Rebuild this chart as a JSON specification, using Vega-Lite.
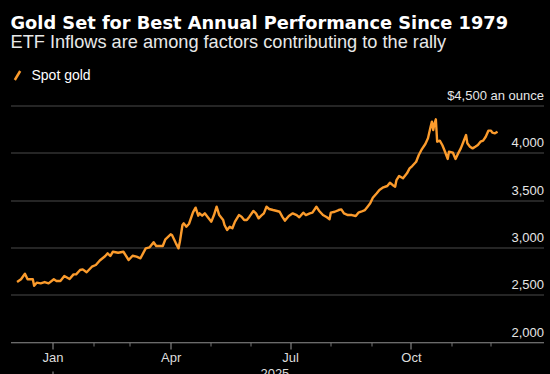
{
  "$schema": "https://vega.github.io/schema/vega-lite/v6.json",
  "autosize": {"type": "none"},
  "width": 533,
  "height": 236.5,
  "padding": {"left": 10.5, "top": 105.5, "right": 6.5, "bottom": 32},
  "background": "#000000",
  "title": {
    "text": "Gold Set for Best Annual Performance Since 1979",
    "subtitle": "ETF Inflows are among factors contributing to the rally",
    "anchor": "start",
    "frame": "group",
    "offset": 17,
    "font": "DejaVu Sans",
    "fontSize": 17.8,
    "fontWeight": "bold",
    "color": "#ffffff",
    "subtitleFont": "Liberation Sans",
    "subtitleFontSize": 18.2,
    "subtitleColor": "#e8e8e8",
    "subtitlePadding": 2
  },
  "data": {"values": [
    {"date": "2024-12-05", "price": 2634}, {"date": "2024-12-08", "price": 2663}, {"date": "2024-12-11", "price": 2722},
    {"date": "2024-12-13", "price": 2663}, {"date": "2024-12-17", "price": 2663}, {"date": "2024-12-18", "price": 2595},
    {"date": "2024-12-20", "price": 2627}, {"date": "2024-12-23", "price": 2620}, {"date": "2024-12-26", "price": 2634},
    {"date": "2024-12-29", "price": 2620}, {"date": "2025-01-02", "price": 2663}, {"date": "2025-01-04", "price": 2645},
    {"date": "2025-01-07", "price": 2645}, {"date": "2025-01-10", "price": 2698}, {"date": "2025-01-14", "price": 2666},
    {"date": "2025-01-17", "price": 2715}, {"date": "2025-01-19", "price": 2715}, {"date": "2025-01-22", "price": 2761},
    {"date": "2025-01-24", "price": 2768}, {"date": "2025-01-27", "price": 2737}, {"date": "2025-01-31", "price": 2796},
    {"date": "2025-02-03", "price": 2814}, {"date": "2025-02-06", "price": 2862}, {"date": "2025-02-10", "price": 2907},
    {"date": "2025-02-12", "price": 2937}, {"date": "2025-02-14", "price": 2909}, {"date": "2025-02-16", "price": 2954},
    {"date": "2025-02-20", "price": 2944}, {"date": "2025-02-24", "price": 2954}, {"date": "2025-02-28", "price": 2867},
    {"date": "2025-03-03", "price": 2912}, {"date": "2025-03-06", "price": 2902}, {"date": "2025-03-09", "price": 2885},
    {"date": "2025-03-13", "price": 2990}, {"date": "2025-03-16", "price": 3001}, {"date": "2025-03-19", "price": 3054},
    {"date": "2025-03-21", "price": 3015}, {"date": "2025-03-26", "price": 3015}, {"date": "2025-03-28", "price": 3086},
    {"date": "2025-04-01", "price": 3138}, {"date": "2025-04-02", "price": 3131}, {"date": "2025-04-05", "price": 3043},
    {"date": "2025-04-07", "price": 2990}, {"date": "2025-04-08", "price": 3060}, {"date": "2025-04-10", "price": 3237},
    {"date": "2025-04-11", "price": 3254}, {"date": "2025-04-13", "price": 3219}, {"date": "2025-04-15", "price": 3250},
    {"date": "2025-04-18", "price": 3370}, {"date": "2025-04-20", "price": 3420}, {"date": "2025-04-22", "price": 3335},
    {"date": "2025-04-23", "price": 3360}, {"date": "2025-04-25", "price": 3335}, {"date": "2025-04-27", "price": 3360},
    {"date": "2025-04-29", "price": 3325}, {"date": "2025-05-02", "price": 3272}, {"date": "2025-05-04", "price": 3342},
    {"date": "2025-05-06", "price": 3430}, {"date": "2025-05-08", "price": 3342}, {"date": "2025-05-11", "price": 3290},
    {"date": "2025-05-12", "price": 3237}, {"date": "2025-05-14", "price": 3184}, {"date": "2025-05-16", "price": 3219},
    {"date": "2025-05-18", "price": 3202}, {"date": "2025-05-20", "price": 3272}, {"date": "2025-05-23", "price": 3342},
    {"date": "2025-05-25", "price": 3325}, {"date": "2025-05-27", "price": 3290}, {"date": "2025-05-29", "price": 3290},
    {"date": "2025-05-31", "price": 3325}, {"date": "2025-06-03", "price": 3385}, {"date": "2025-06-05", "price": 3360},
    {"date": "2025-06-07", "price": 3307}, {"date": "2025-06-09", "price": 3335}, {"date": "2025-06-11", "price": 3360},
    {"date": "2025-06-13", "price": 3430}, {"date": "2025-06-15", "price": 3406}, {"date": "2025-06-18", "price": 3395},
    {"date": "2025-06-21", "price": 3385}, {"date": "2025-06-23", "price": 3377}, {"date": "2025-06-25", "price": 3325},
    {"date": "2025-06-27", "price": 3283}, {"date": "2025-06-30", "price": 3332}, {"date": "2025-07-03", "price": 3360},
    {"date": "2025-07-06", "price": 3342}, {"date": "2025-07-08", "price": 3318}, {"date": "2025-07-11", "price": 3367},
    {"date": "2025-07-13", "price": 3342}, {"date": "2025-07-16", "price": 3360}, {"date": "2025-07-18", "price": 3367},
    {"date": "2025-07-21", "price": 3430}, {"date": "2025-07-23", "price": 3388}, {"date": "2025-07-26", "price": 3342},
    {"date": "2025-07-29", "price": 3318}, {"date": "2025-07-31", "price": 3297}, {"date": "2025-08-01", "price": 3367},
    {"date": "2025-08-04", "price": 3377}, {"date": "2025-08-07", "price": 3395}, {"date": "2025-08-09", "price": 3402},
    {"date": "2025-08-11", "price": 3360}, {"date": "2025-08-14", "price": 3342}, {"date": "2025-08-17", "price": 3342},
    {"date": "2025-08-20", "price": 3332}, {"date": "2025-08-22", "price": 3367}, {"date": "2025-08-24", "price": 3377},
    {"date": "2025-08-27", "price": 3395}, {"date": "2025-08-29", "price": 3430}, {"date": "2025-08-31", "price": 3466},
    {"date": "2025-09-02", "price": 3525}, {"date": "2025-09-05", "price": 3572}, {"date": "2025-09-07", "price": 3607},
    {"date": "2025-09-10", "price": 3635}, {"date": "2025-09-13", "price": 3649}, {"date": "2025-09-15", "price": 3684},
    {"date": "2025-09-17", "price": 3660}, {"date": "2025-09-19", "price": 3642}, {"date": "2025-09-20", "price": 3712},
    {"date": "2025-09-22", "price": 3755}, {"date": "2025-09-25", "price": 3730}, {"date": "2025-09-28", "price": 3783},
    {"date": "2025-09-30", "price": 3835}, {"date": "2025-10-02", "price": 3860}, {"date": "2025-10-05", "price": 3906},
    {"date": "2025-10-07", "price": 3977}, {"date": "2025-10-09", "price": 4030}, {"date": "2025-10-12", "price": 4093},
    {"date": "2025-10-14", "price": 4153}, {"date": "2025-10-16", "price": 4276}, {"date": "2025-10-17", "price": 4329},
    {"date": "2025-10-18", "price": 4241}, {"date": "2025-10-19", "price": 4311}, {"date": "2025-10-20", "price": 4354},
    {"date": "2025-10-21", "price": 4117}, {"date": "2025-10-23", "price": 4128}, {"date": "2025-10-25", "price": 4080},
    {"date": "2025-10-27", "price": 4011}, {"date": "2025-10-29", "price": 3935}, {"date": "2025-10-30", "price": 4011},
    {"date": "2025-11-02", "price": 4001}, {"date": "2025-11-04", "price": 3935}, {"date": "2025-11-06", "price": 3994},
    {"date": "2025-11-08", "price": 4047}, {"date": "2025-11-10", "price": 4117}, {"date": "2025-11-12", "price": 4188},
    {"date": "2025-11-13", "price": 4100}, {"date": "2025-11-15", "price": 4064}, {"date": "2025-11-17", "price": 4047},
    {"date": "2025-11-19", "price": 4064}, {"date": "2025-11-21", "price": 4082}, {"date": "2025-11-23", "price": 4117},
    {"date": "2025-11-25", "price": 4128}, {"date": "2025-11-27", "price": 4170}, {"date": "2025-11-29", "price": 4234},
    {"date": "2025-12-01", "price": 4234}, {"date": "2025-12-02", "price": 4213}, {"date": "2025-12-04", "price": 4206},
    {"date": "2025-12-06", "price": 4223}
  ]},
  "layer": [
    {
      "mark": {"type": "line", "strokeWidth": 2.4, "strokeJoin": "round"},
      "encoding": {
        "x": {
          "field": "date", "type": "temporal",
          "scale": {"type": "utc", "domain": [{"year": 2024, "month": 11, "date": 30, "utc": true}, {"year": 2026, "month": 1, "date": 10, "utc": true}]},
          "axis": {
            "title": null, "grid": false, "orient": "bottom",
            "values": [
              {"year": 2025, "month": 1, "date": 1, "utc": true}, {"year": 2025, "month": 2, "date": 1, "utc": true},
              {"year": 2025, "month": 3, "date": 1, "utc": true}, {"year": 2025, "month": 4, "date": 1, "utc": true},
              {"year": 2025, "month": 5, "date": 1, "utc": true}, {"year": 2025, "month": 6, "date": 1, "utc": true},
              {"year": 2025, "month": 7, "date": 1, "utc": true}, {"year": 2025, "month": 8, "date": 1, "utc": true},
              {"year": 2025, "month": 9, "date": 1, "utc": true}, {"year": 2025, "month": 10, "date": 1, "utc": true},
              {"year": 2025, "month": 11, "date": 1, "utc": true}, {"year": 2025, "month": 12, "date": 1, "utc": true}
            ],
            "labelExpr": "utcmonth(datum.value) % 3 == 0 ? utcFormat(datum.value, '%b') : ''",
            "tickSize": {"condition": {"test": "utcmonth(datum.value) % 3 == 0", "value": 7}, "value": 4},
            "tickColor": {"condition": {"test": "utcmonth(datum.value) % 3 == 0", "value": "#9a9a9a"}, "value": "#777777"},
            "domainColor": "#6a6a6a",
            "labelColor": "#dddddd",
            "labelFont": "Liberation Sans",
            "labelFontSize": 13,
            "labelPadding": 2,
            "labelOverlap": false,
            "labelFlush": false
          }
        },
        "y": {
          "field": "price", "type": "quantitative",
          "scale": {"domain": [2000, 4500], "nice": false, "zero": false},
          "axis": {
            "title": null, "orient": "right",
            "values": [2000, 2500, 3000, 3500, 4000, 4500],
            "labelExpr": "datum.value == 4500 ? '$4,500 an ounce' : format(datum.value, ',.0f')",
            "grid": true, "gridColor": "#4a4a4a", "gridWidth": 1,
            "domain": false, "ticks": false, "tickSize": 0,
            "labelAlign": "right", "labelBaseline": "alphabetic", "labelOffset": -6, "labelPadding": 0,
            "labelColor": "#e6e6e6", "labelFont": "Liberation Sans", "labelFontSize": 13,
            "labelOverlap": false
          }
        },
        "color": {
          "datum": "Spot gold",
          "scale": {"range": ["#fb9b2c"]},
          "legend": {
            "title": null, "orient": "none", "legendX": 0, "legendY": -37,
            "symbolType": "M-0.6,1L0.6,-1", "symbolSize": 81, "symbolStrokeWidth": 2.5,
            "labelFont": "Liberation Sans", "labelFontSize": 14, "labelColor": "#ffffff",
            "labelOffset": 7, "padding": 0
          }
        }
      }
    },
    {
      "mark": {"type": "line", "opacity": 0},
      "encoding": {
        "x": {
          "field": "date", "type": "temporal",
          "axis": {
            "title": null, "grid": false, "orient": "bottom", "offset": 29, "domain": false,
            "values": [{"year": 2025, "month": 1, "date": 1, "utc": true}, {"year": 2025, "month": 6, "date": 19, "utc": true}],
            "labelExpr": "utcmonth(datum.value) == 0 ? '' : '2025'",
            "tickSize": 8, "tickColor": "#9a9a9a",
            "tickOpacity": {"condition": {"test": "utcmonth(datum.value) == 0", "value": 1}, "value": 0},
            "labelPadding": -12, "labelBaseline": "top",
            "labelColor": "#dddddd", "labelFont": "Liberation Sans", "labelFontSize": 13,
            "labelOverlap": false, "labelFlush": false
          }
        },
        "y": {"field": "price", "type": "quantitative", "axis": null}
      }
    }
  ],
  "resolve": {"axis": {"x": "independent", "y": "independent"}},
  "config": {"view": {"stroke": null}}
}
